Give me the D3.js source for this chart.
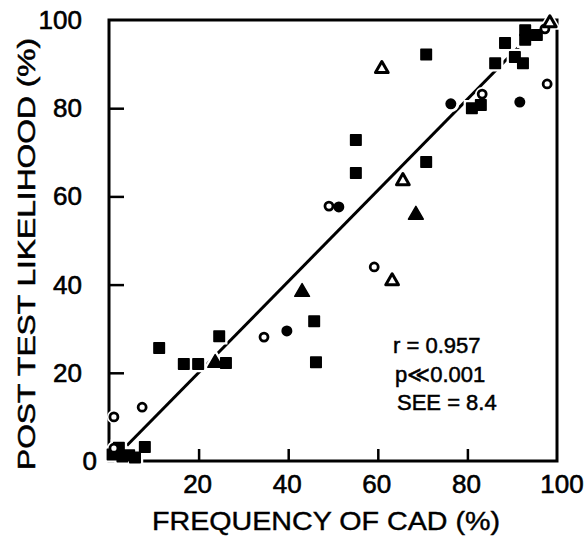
<!DOCTYPE html>
<html>
<head>
<meta charset="utf-8">
<script src="https://cdn.jsdelivr.net/npm/d3@7"></script>
<style>
  body { margin: 0; background: #fff; }
  text { font-family: "Liberation Sans", Arial, sans-serif; fill: #000; }
</style>
</head>
<body>
<div id="chart"></div>
<script>
// data: [frequency of CAD (%), post test likelihood (%)]
var filledSquares = [
    [0.8, 1.5], [2.2, 3.0], [3.0, 1.0], [4.5, 1.3], [5.8, 0.8], [8.0, 3.2],
    [11.2, 25.6], [16.7, 22.0], [19.9, 22.0], [24.6, 28.3], [26.1, 22.2],
    [45.8, 31.7], [46.2, 22.4], [55.1, 72.8], [55.1, 65.3], [70.8, 92.2],
    [70.8, 67.8], [81.0, 80.0], [83.0, 80.7], [86.2, 90.2], [88.4, 94.8],
    [90.6, 91.6], [92.4, 90.2], [92.9, 97.7], [92.9, 95.5], [95.5, 96.6]
];
var filledCircles = [[39.7, 29.5], [51.3, 57.6], [76.3, 81.0], [91.7, 81.4]];
var openCircles = [
    [1.1, 10.0], [7.4, 12.2], [1.1, 2.9], [34.6, 28.1], [49.1, 57.8],
    [59.2, 44.0], [83.3, 83.2], [97.8, 85.5], [97.3, 98.0]
];
var openTriangles = [[60.9, 88.9], [65.6, 63.5], [63.2, 40.8], [98.4, 99.3]];
var filledTriangles = [[23.7, 22.2], [43.1, 38.3], [68.5, 55.8]];

var fitLine = [[4, 3.5], [94, 96.5]];
var ticks = [0, 20, 40, 60, 80, 100];
var stats = ["r = 0.957", "p\u226A0.001", "SEE = 8.4"];

var width = 586, height = 536;
var x = d3.scaleLinear().domain([0, 100]).range([109, 557]);
var y = d3.scaleLinear().domain([0, 100]).range([461, 20]);

var svg = d3.select('#chart').append('svg')
    .attr('width', width)
    .attr('height', height);

// frame
svg.append('rect')
    .attr('x', x(0)).attr('y', y(100))
    .attr('width', x(100) - x(0)).attr('height', y(0) - y(100))
    .attr('fill', 'none').attr('stroke', '#000').attr('stroke-width', 3);

// inward ticks
svg.append('g').attr('transform', 'translate(0,' + y(0) + ')')
    .call(d3.axisTop(x).tickValues([20, 40, 60, 80]).tickSize(12).tickFormat(''))
    .call(function (g) { g.select('.domain').remove(); })
    .selectAll('line').attr('stroke-width', 2.5);
svg.append('g').attr('transform', 'translate(' + x(0) + ',0)')
    .call(d3.axisRight(y).tickValues([20, 40, 60, 80]).tickSize(15).tickFormat(''))
    .call(function (g) { g.select('.domain').remove(); })
    .selectAll('line').attr('stroke-width', 2.5);

// tick labels
svg.selectAll('.xlab').data(ticks.slice(1)).enter().append('text')
    .attr('x', function (d) { return d === 100 ? x(d) + 5 : x(d) - 1; })
    .attr('y', 493)
    .attr('text-anchor', 'middle')
    .attr('font-size', 26)
    .attr('stroke', '#000').attr('stroke-width', 0.6)
    .text(function (d) { return d; });
svg.selectAll('.ylab').data(ticks).enter().append('text')
    .attr('x', function (d) { return d === 0 ? 97 : 82; })
    .attr('y', function (d) { return y(d) + 9; })
    .attr('text-anchor', 'end')
    .attr('font-size', 26)
    .attr('stroke', '#000').attr('stroke-width', 0.6)
    .text(function (d) { return d; });

// axis titles
svg.append('text')
    .attr('x', 152).attr('y', 530)
    .attr('font-size', 25)
    .attr('textLength', 348).attr('lengthAdjust', 'spacingAndGlyphs')
    .attr('stroke', '#000').attr('stroke-width', 0.4)
    .text('FREQUENCY OF CAD (%)');
svg.append('text')
    .attr('transform', 'translate(35,470) rotate(-90)')
    .attr('font-size', 23)
    .attr('textLength', 432).attr('lengthAdjust', 'spacingAndGlyphs')
    .attr('stroke', '#000').attr('stroke-width', 0.5)
    .text('POST TEST LIKELIHOOD (%)');

// regression line
svg.append('line')
    .attr('x1', x(fitLine[0][0])).attr('y1', y(fitLine[0][1]))
    .attr('x2', x(fitLine[1][0])).attr('y2', y(fitLine[1][1]))
    .attr('stroke', '#000').attr('stroke-width', 3);

var sq = d3.symbol().type(d3.symbolSquare).size(110);
var tri = d3.symbol().type(d3.symbolTriangle).size(95);
var triOpen = d3.symbol().type(d3.symbolTriangle).size(70);

var series = [
    {data: filledSquares, path: sq, fill: '#000', stroke: '#000', sw: 1.5, r: 0},
    {data: filledCircles, path: null, fill: '#000', stroke: 'none', sw: 0, r: 5.5},
    {data: openCircles, path: null, fill: '#fff', stroke: '#000', sw: 2.8, r: 4},
    {data: openTriangles, path: triOpen, fill: '#fff', stroke: '#000', sw: 3, r: 0},
    {data: filledTriangles, path: tri, fill: '#000', stroke: '#000', sw: 1.5, r: 0}
];

function drawMarks(layer, halo) {
    series.forEach(function (s) {
        var sel = layer.selectAll(null).data(s.data).enter();
        var m;
        if (s.path) {
            m = sel.append('path').attr('d', s.path())
                .attr('transform', function (d) { return 'translate(' + x(d[0]) + ',' + y(d[1]) + ')'; });
        } else {
            m = sel.append('circle').attr('r', s.r)
                .attr('cx', function (d) { return x(d[0]); })
                .attr('cy', function (d) { return y(d[1]); });
        }
        if (halo) {
            m.attr('fill', '#fff').attr('stroke', '#fff').attr('stroke-width', 6);
        } else {
            m.attr('fill', s.fill).attr('stroke', s.stroke).attr('stroke-width', s.sw)
                .attr('stroke-linejoin', 'round');
        }
    });
}
drawMarks(svg.append('g'), true);
drawMarks(svg.append('g'), false);

// stats text
svg.selectAll('.stat').data(stats).enter().append('text')
    .attr('x', function (d, i) { return 393 + i * 2; })
    .attr('y', function (d, i) { return 353 + i * 28.5; })
    .attr('font-size', 22)
    .attr('stroke', '#000').attr('stroke-width', 0.5)
    .text(function (d) { return d; });
</script>
</body>
</html>
